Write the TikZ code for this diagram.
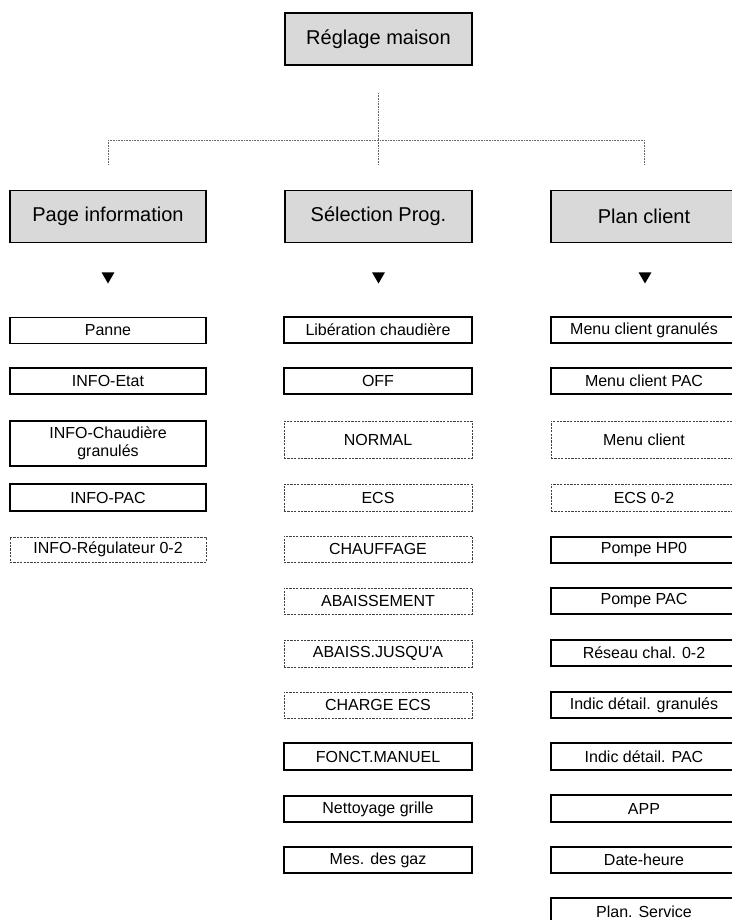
\documentclass[tikz,border=0pt]{standalone}
\usepackage{fontspec}
\setmainfont{Liberation Sans}
\usetikzlibrary{shapes.geometric}
\definecolor{boxgray}{RGB}{217,217,217}
\begin{document}
\begin{tikzpicture}[x=1bp,y=-1bp,
  lvl/.style={draw=black,line width=1.8bp,fill=boxgray,minimum height=52bp,inner sep=0pt,font=\fontsize{20bp}{24bp}\selectfont},
  item/.style={draw=black,line width=1.8bp,minimum height=26bp,inner sep=0pt,align=center,font=\fontsize{16bp}{18bp}\selectfont},
  opt/.style={item,draw=black!75,line width=0.8bp,dash pattern=on 2.2bp off 1.2bp},
  colL/.style={minimum width=196bp},
  colM/.style={minimum width=188bp},
  colR/.style={minimum width=186bp},
  conn/.style={draw=black!60,line width=0.8bp,dash pattern=on 0.8bp off 0.8bp},
  tri/.style={regular polygon,regular polygon sides=3,shape border rotate=180,fill=black,minimum size=15bp,inner sep=0pt}]
\useasboundingbox (0,0) rectangle (732,920);
\clip (0,0) rectangle (732,920);

% top
\node[lvl,minimum width=187bp] (top) at (378.5,39) {Réglage maison};
% level 2
\node[lvl,colL] (pinfo) at (108,216.5) {Page information};
\node[lvl,minimum width=187bp] (selp) at (378.5,216.5) {Sélection Prog.};
\node[lvl,colR] (plan) at (644,216.5) {Plan client};

% connectors
\coordinate (j) at (378.5,140);
\draw[conn,shorten <=27bp] (top.south) -- (j);
\draw[conn] (j -| pinfo.north) -- (j -| plan.north);
\draw[conn,shorten >=25bp] (j -| pinfo.north) -- (pinfo.north);
\draw[conn,shorten >=25bp] (j) -- (selp.north);
\draw[conn,shorten >=25bp] (j -| plan.north) -- (plan.north);

% triangles
\node[tri] (t1) at (108,276) {};
\node[tri] (t2) at (378.5,276) {};
\node[tri] (t3) at (645,276) {};

% left column
\node[item,colL] (l1) at (108,330.5) {Panne};
\node[item,colL] (l2) at (108,381) {INFO-Etat};
\node[item,colL,minimum height=45bp] (l3) at (108,443.5) {INFO-Chaudière\\granulés};
\node[item,colL,minimum height=27bp] (l4) at (108,497.5) {INFO-PAC};
\node[opt,colL,minimum height=25bp] (l5) at (108,549.5) {INFO-Régulateur 0-2};

% middle column
\node[item,colM] (m1) at (378,330) {Libération chaudière};
\node[item,colM] (m2) at (378,381) {OFF};
\node[opt,colM,minimum height=37bp] (m3) at (378,439.5) {NORMAL};
\node[opt,colM,minimum height=27bp] (m4) at (378,497.5) {ECS};
\node[opt,colM] (m5) at (378,549) {CHAUFFAGE};
\node[opt,colM] (m6) at (378,601) {ABAISSEMENT};
\node[opt,colM,minimum height=27bp] (m7) at (378,653.5) {ABAISS.JUSQU\textquotesingle A};
\node[opt,colM] (m8) at (378,705) {CHARGE ECS};
\node[item,colM,minimum height=27bp] (m9) at (378,756.5) {FONCT.MANUEL};
\node[item,colM] (m10) at (378,809) {Nettoyage grille};
\node[item,colM] (m11) at (378,860) {Mes. des gaz};

% right column
\node[item,colR] (r1) at (644,330) {Menu client granulés};
\node[item,colR] (r2) at (644,381) {Menu client PAC};
\node[opt,colR,minimum height=37bp] (r3) at (644,439.5) {Menu client};
\node[opt,colR,minimum height=27bp] (r4) at (644,497.5) {ECS 0-2};
\node[item,colR] (r5) at (644,550) {Pompe HP0};
\node[item,colR] (r6) at (644,601) {Pompe PAC};
\node[item,colR] (r7) at (644,653) {Réseau chal. 0-2};
\node[item,colR] (r8) at (644,705) {Indic détail. granulés};
\node[item,colR,minimum height=27bp] (r9) at (644,756.5) {Indic détail. PAC};
\node[item,colR,minimum height=27bp] (r10) at (644,808.5) {APP};
\node[item,colR] (r11) at (644,860) {Date-heure};
\node[item,colR,minimum height=27bp] (r12) at (644,911.5) {Plan. Service};
\end{tikzpicture}
\end{document}
